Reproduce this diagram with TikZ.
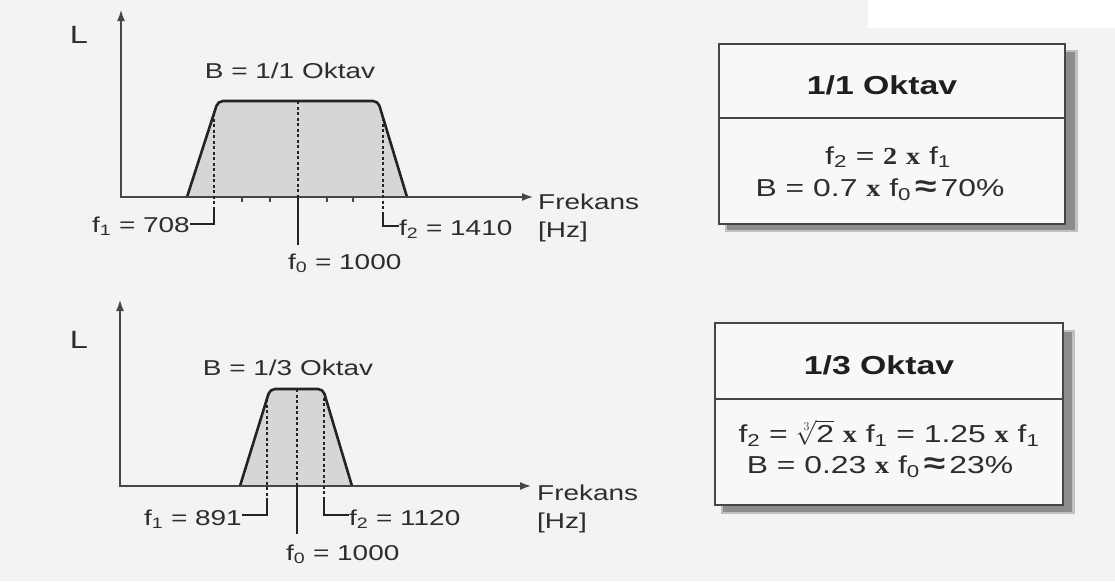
\documentclass[tikz,border=0pt]{standalone}
\usepackage{fontspec}
\setmainfont{Liberation Sans}[FakeStretch=1.3]
\newfontfamily\serifbf{Liberation Serif}[FakeStretch=1.15]
\usetikzlibrary{arrows.meta}
\definecolor{bg}{RGB}{243,243,241}
\definecolor{txt}{RGB}{45,45,45}
\definecolor{lnc}{RGB}{35,35,35}
\definecolor{axc}{RGB}{70,70,70}
\definecolor{fillc}{RGB}{214,214,212}
\definecolor{boxfill}{RGB}{248,248,247}
\definecolor{shad}{RGB}{140,140,140}
\newcommand{\sbs}[1]{\textsubscript{#1}}
\newcommand{\bx}{{\serifbf\bfseries x}}
\tikzset{
  axisline/.style={draw=axc, line width=1.5pt, {Latex[length=11pt,width=8pt]}-{Latex[length=11pt,width=8pt]}},
  curve/.style={draw=lnc, line width=2.6pt, fill=fillc, rounded corners=5pt},
  guide/.style={draw=lnc, line width=1.3pt, dash pattern=on 3pt off 2.5pt},
  leader/.style={draw=lnc, line width=1.2pt},
  tickmark/.style={draw=axc, line width=1.2pt},
  lbl/.style={font=\fontsize{21.5}{23}\selectfont, text=txt, inner sep=0pt},
  biglbl/.style={font=\fontsize{25}{27}\selectfont, text=txt, inner sep=0pt},
  boxstyle/.style={draw=axc, line width=1.5pt, fill=boxfill, inner sep=0pt},
  boxline/.style={draw=axc, line width=1.4pt},
  titlestyle/.style={font=\fontsize{26}{28}\selectfont\bfseries, text=black!88, inner sep=0pt},
  formula/.style={font=\fontsize{24.5}{26}\selectfont, text=txt, inner sep=0pt},
}
\begin{document}
\begin{tikzpicture}[x=1pt,y=-1pt]
\useasboundingbox (0,0) rectangle (1115,581);
\fill[bg] (0,0) rectangle (1115,581);
\fill[white] (868,0) rectangle (1115,28);

% ---------- top chart ----------
\node[biglbl] (L1) at (79,35) {L};
\coordinate (Y1) at (121,10);
\coordinate (O1) at (121,197);
\coordinate (X1) at (533,197);
\filldraw[curve] (187,197) -- (218,101) -- (378,101) -- (407,197);
\draw[axisline] (Y1) -- (O1) -- (X1);
\foreach \t in {242,270,327,353} \draw[tickmark] (\t,197) -- (\t,202);
\node[lbl, anchor=west] (fr1) at (538,202) {Frekans};
\node[lbl, anchor=west] (hz1) at (538,232) {[Hz]};
\node[lbl] (B1) at (290,71) {B = 1/1 Oktav};
\node[lbl, anchor=east] (f1a) at (190,226) {f\sbs{1} = 708};
\node[lbl, anchor=west] (f0a) at (288,263) {f\sbs{0} = 1000};
\node[lbl, anchor=west] (f2a) at (399,229) {f\sbs{2} = 1410};
\coordinate (g1t) at (214,113);
\coordinate (g1b) at (214,210);
\coordinate (g1c) at (214,224);
\coordinate (g0t) at (298,101);
\coordinate (g0b) at (298,197);
\coordinate (g0e) at (298,245);
\coordinate (g2t) at (383,118);
\coordinate (g2b) at (383,212);
\coordinate (g2c) at (383,226);
\draw[guide] (g1t) -- (g1b);
\draw[leader] (g1b) -- (g1c) -- (f1a.east |- g1c);
\draw[guide] (g0t) -- (g0b);
\draw[leader] (g0b) -- (g0e);
\draw[guide] (g2t) -- (g2b);
\draw[leader] (g2b) -- (g2c) -- (f2a.west |- g2c);

% ---------- bottom chart ----------
\node[biglbl] (L2) at (79,340) {L};
\coordinate (Y2) at (120,300);
\coordinate (O2) at (120,486);
\coordinate (X2) at (531,486);
\filldraw[curve] (240,486) -- (270,389) -- (323,389) -- (352,486);
\draw[axisline] (Y2) -- (O2) -- (X2);
\node[lbl, anchor=west] (fr2) at (537,493) {Frekans};
\node[lbl, anchor=west] (hz2) at (537,523) {[Hz]};
\node[lbl] (B2) at (288,368) {B = 1/3 Oktav};
\node[lbl, anchor=east] (f1b) at (242,519) {f\sbs{1} = 891};
\node[lbl, anchor=west] (f0b) at (286,554) {f\sbs{0} = 1000};
\node[lbl, anchor=west] (f2b) at (349,519) {f\sbs{2} = 1120};
\coordinate (h1t) at (267,399);
\coordinate (h1b) at (267,500);
\coordinate (h1c) at (267,515);
\coordinate (h0t) at (297,389);
\coordinate (h0b) at (297,486);
\coordinate (h0e) at (297,534);
\coordinate (h2t) at (324,392);
\coordinate (h2b) at (324,500);
\coordinate (h2c) at (324,515);
\draw[guide] (h1t) -- (h1b);
\draw[leader] (h1b) -- (h1c) -- (f1b.east |- h1c);
\draw[guide] (h0t) -- (h0b);
\draw[leader] (h0b) -- (h0e);
\draw[guide] (h2t) -- (h2b);
\draw[leader] (h2b) -- (h2c) -- (f2b.west |- h2c);

% ---------- top box ----------
\fill[shad!55] (725,50) rectangle (1078,232);
\fill[shad] (727,52) rectangle (1075,230);
\node[boxstyle, minimum width=346pt, minimum height=180pt] (box1) at (892,134) {};
\coordinate (d1) at (0,118);
\draw[boxline] (box1.west |- d1) -- (box1.east |- d1);
\node[titlestyle] (t1) at (882,85) {1/1 Oktav};
\node[formula] (e1) at (888,157) {f\sbs{2} = {\serifbf\bfseries 2} \bx{} f\sbs{1}};
\node[formula] (e2) at (880,190) {B = 0.7 \bx{} f\sbs{0}\,{\bfseries\fontsize{30}{30}\selectfont ≈}\,70\%};

% ---------- bottom box ----------
\fill[shad!55] (721,330) rectangle (1075,514);
\fill[shad] (723,332) rectangle (1072,512);
\node[boxstyle, minimum width=348pt, minimum height=182pt] (box2) at (889,414) {};
\coordinate (d2) at (0,399);
\draw[boxline] (box2.west |- d2) -- (box2.east |- d2);
\node[titlestyle] (t2) at (879,365) {1/3 Oktav};
\node[formula] (e3) at (889,433) {f\sbs{2} = $\sqrt[\scriptscriptstyle 3]{\mbox{2}}$ \bx{} f\sbs{1} = 1.25 \bx{} f\sbs{1}};
\node[formula] (e4) at (880,467) {B = 0.23 \bx{} f\sbs{0}\,{\bfseries\fontsize{30}{30}\selectfont ≈}\,23\%};
\end{tikzpicture}
\end{document}
